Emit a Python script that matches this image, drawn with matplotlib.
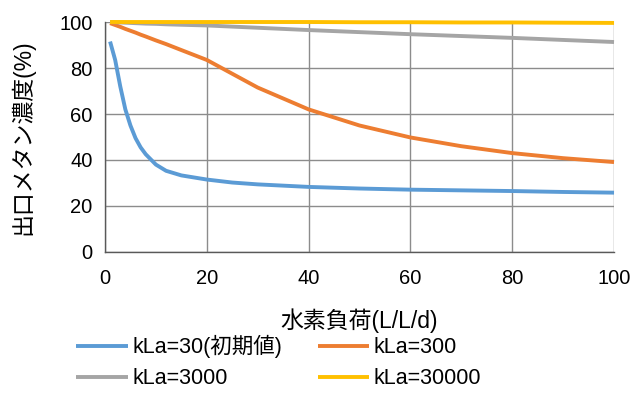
import numpy as np
import matplotlib
matplotlib.use("Agg")
import matplotlib.pyplot as plt

plt.rcParams['font.family'] = ['Liberation Sans', 'Noto Sans CJK JP', 'DejaVu Sans']

# hydrogen load (L/L/d)
load = [1, 2, 3, 4, 5, 6, 7, 8, 10, 12, 15, 20, 25, 30, 40, 50, 60, 70, 80, 90, 100]

# outlet methane concentration (%) per kLa
kla_30 = [91.5, 83.5, 72, 62, 55, 49.5, 45.5, 42.5, 38.0, 35.3, 33.3, 31.5, 30.2, 29.4,
          28.3, 27.6, 27.1, 26.8, 26.5, 26.1, 25.8]
kla_300 = [99.5, 98.7, 97.9, 97.0, 96.2, 95.4, 94.5, 93.7, 92.0, 90.4, 87.8, 83.5, 77.5,
           71.5, 62, 55, 49.8, 46, 43, 40.8, 39.1]
kla_3000 = [100, 99.9, 99.8, 99.7, 99.6, 99.5, 99.4, 99.3, 99.2, 99.0, 98.8, 98.5, 98.0,
            97.5, 96.5, 95.6, 94.7, 93.9, 93.1, 92.2, 91.3]
kla_30000 = [100, 100, 100, 100, 100, 100, 100, 100, 100, 100, 100, 100, 100, 100,
             100, 99.9, 99.9, 99.8, 99.8, 99.7, 99.6]

labels = ['kLa=30(初期値)', 'kLa=300', 'kLa=3000', 'kLa=30000']
colors = ['#5B9BD5', '#ED7D31', '#A5A5A5', '#FFC000']

fig = plt.figure(figsize=(6.34, 3.93), dpi=100)
ax = fig.add_axes([0.1656, 0.3588, 0.8029, 0.5852])

lines = []
for ys, lab, c in zip([kla_30, kla_300, kla_3000, kla_30000], labels, colors):
    ln, = ax.plot(load, ys, color=c, lw=2.8, label=lab, clip_on=False, zorder=3,
                  solid_capstyle='butt')
    lines.append(ln)

ax.set_xlim(0, 100)
ax.set_ylim(0, 100)
ax.set_xticks(np.arange(0, 101, 20))
ax.set_yticks(np.arange(0, 101, 20))
ax.grid(True, color='#8c8c8c', lw=1.0)
ax.set_axisbelow(True)
for s in ['top', 'right']:
    ax.spines[s].set_visible(False)
for s in ['left', 'bottom']:
    ax.spines[s].set_color('#595959')
    ax.spines[s].set_linewidth(1.0)
ax.tick_params(axis='y', length=0, labelsize=14.5, colors='black', pad=9)
ax.tick_params(axis='x', length=0, labelsize=14.5, colors='black', pad=12)

ax.set_xlabel('水素負荷(L/L/d)', fontsize=16.5, labelpad=15)
ax.set_ylabel('出口メタン濃度(%)', fontsize=16.5, labelpad=18)

# row-major order like the original legend
order = [0, 2, 1, 3]
fig.legend([lines[i] for i in order], [labels[i] for i in order],
           loc='lower left', bbox_to_anchor=(0.107, -0.012), ncol=2,
           frameon=False, fontsize=15.5, handlelength=2.4, handletextpad=0.2,
           columnspacing=1.65, labelspacing=0.45, borderaxespad=0)

fig.savefig('out.png', dpi=100)
